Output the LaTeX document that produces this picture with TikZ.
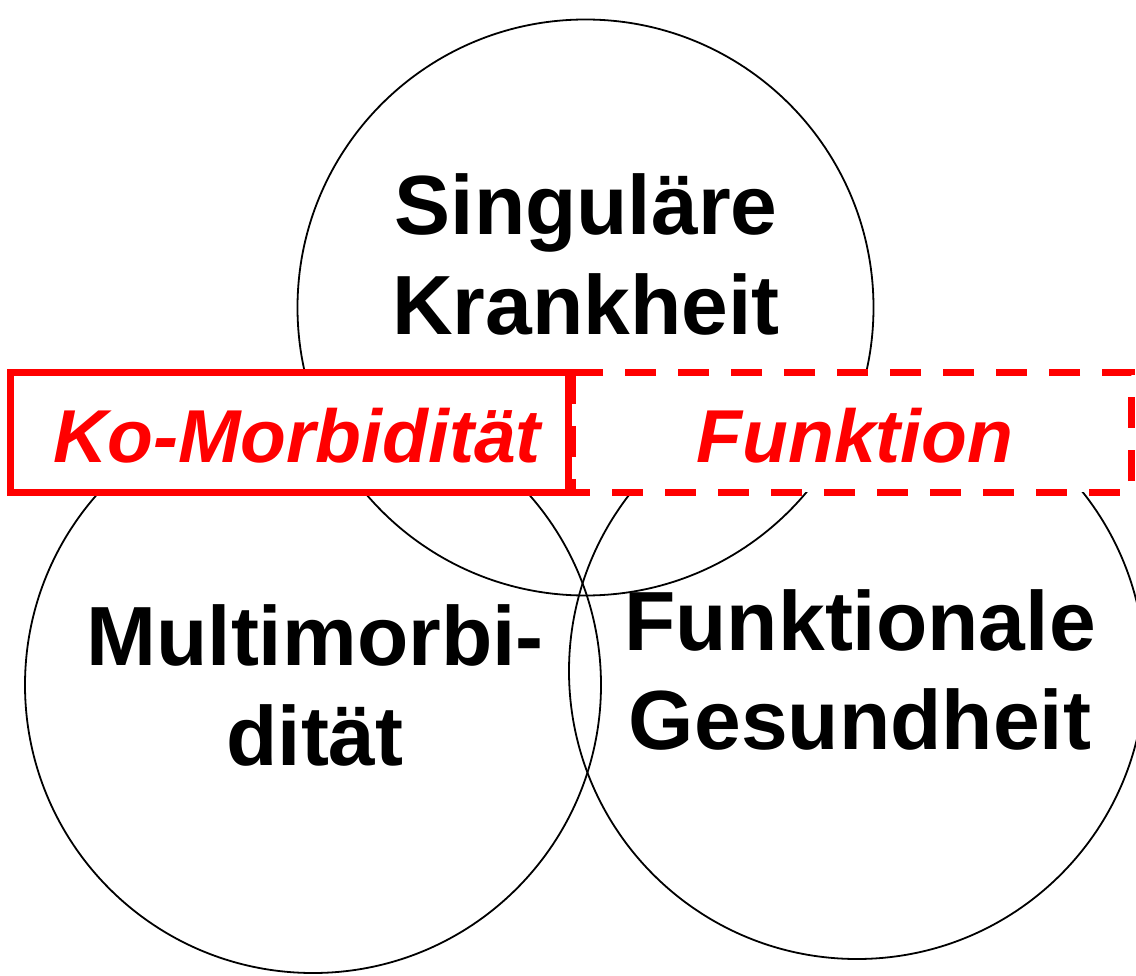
\documentclass[tikz,border=0pt]{standalone}
\usepackage{fontspec}
\setmainfont{Liberation Sans}
\definecolor{kred}{RGB}{255,0,0}
\begin{document}
\begin{tikzpicture}[x=1pt,y=-1pt,
  circ/.style={draw=black,line width=1.8pt},
  redbox/.style={draw=kred,fill=white,line width=7pt},
  dashbox/.style={draw=kred,fill=white,line width=7pt,dash pattern=on 31pt off 22pt},
  big/.style={inner sep=0pt,anchor=base,font=\fontsize{84}{100}\selectfont\bfseries},
  redlab/.style={inner sep=0pt,anchor=base,text=kred,font=\fontsize{75}{90}\selectfont\bfseries\itshape}]
\useasboundingbox (0,0) rectangle (1136,976);
\fill[white] (0,0) rectangle (1136,976);
\node[circ,circle,minimum size=576pt,inner sep=0pt] (ctop) at (585.5,307.5) {};
\node[circ,circle,minimum size=576pt,inner sep=0pt] (cleft) at (313,685) {};
\node[circ,circle,minimum size=576pt,inner sep=0pt] (cright) at (857,671) {};
\draw[dashbox] (572,373) rectangle (1131,492);
\draw[redbox] (10,373) rectangle (568,492);
\node[big] (s1) at (586,235) {Singuläre};
\node[big] (s2) at (586,335) {Krankheit};
\node[big] (m1) at (315,665) {Multimorbi-};
\node[big] (m2) at (315,765) {dität};
\node[big] (f1) at (860,650) {Funktionale};
\node[big] (f2) at (860,749) {Gesundheit};
\node[redlab] (ko) at (297,462) {Ko-Morbidität};
\node[redlab] (fu) at (855,462) {Funktion};
\end{tikzpicture}
\end{document}
